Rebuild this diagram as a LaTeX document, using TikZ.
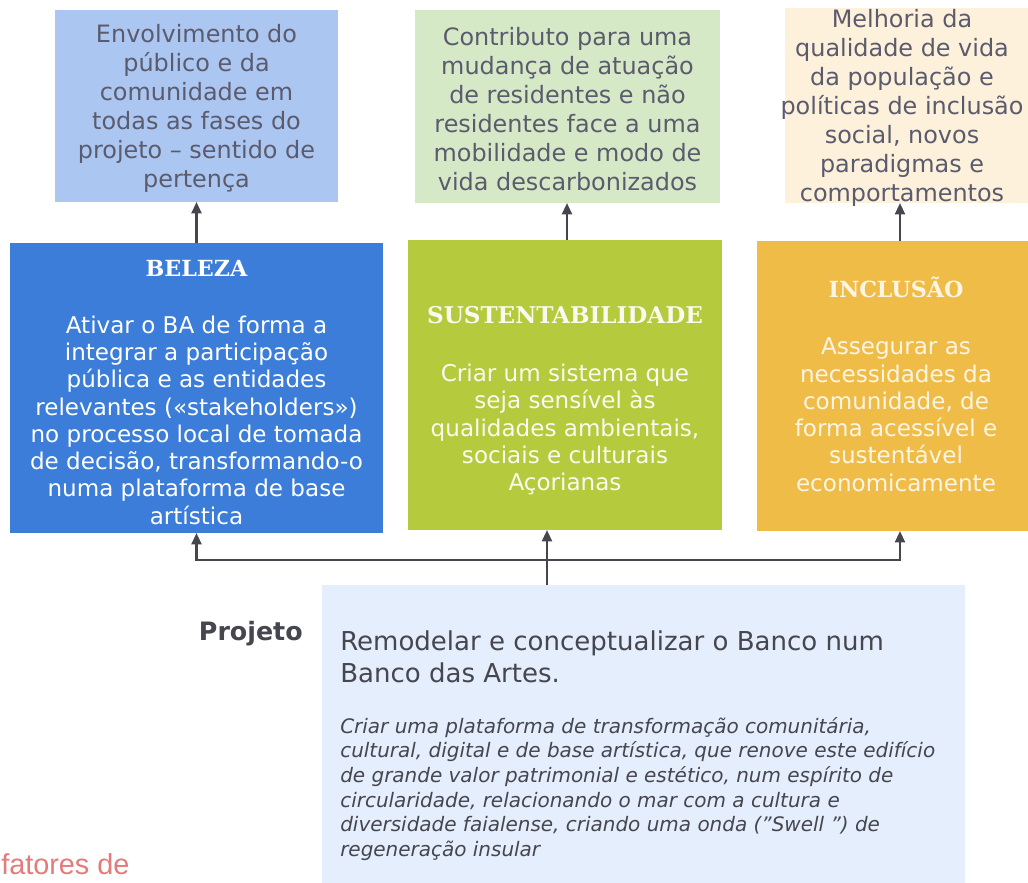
\documentclass[tikz,border=0pt]{standalone}
\usepackage{fontspec}
\setmainfont{DejaVu Sans}
\newfontfamily\headfont{DejaVu Serif}
\newfontfamily\arialfont{Liberation Sans}
\usetikzlibrary{arrows.meta, positioning, calc}

\definecolor{toplblue}{HTML}{ACC6F2}
\definecolor{toplgreen}{HTML}{D6E9C7}
\definecolor{toplcream}{HTML}{FDF1DC}
\definecolor{midblue}{HTML}{3B7DD8}
\definecolor{midgreen}{HTML}{B6CA3E}
\definecolor{midamber}{HTML}{F0BC48}
\definecolor{projfill}{HTML}{E5EEFC}
\definecolor{toptext}{HTML}{5B5B6E}
\definecolor{linegray}{HTML}{45464E}
\definecolor{fatred}{HTML}{E67A7A}

\newlength\pxu
\setlength\pxu{0.025cm}

\begin{document}
\begin{tikzpicture}[
  x=0.025cm, y=-0.025cm,
  box/.style = {inner sep=0pt, outer sep=0pt},
  toptxt/.style = {align=center, text=toptext, inner sep=0pt,
    font=\fontsize{17}{20.6}\selectfont},
  midtxt/.style = {align=center, inner sep=0pt,
    font=\fontsize{16.4}{19.4}\selectfont},
  arrow/.style = {linegray, line width=1.6pt, -{Triangle[length=8pt, width=7pt]}}
]

  \useasboundingbox (0,0) rectangle (1028,883);

  % Outcome boxes (top row)
  \node[box, fill=toplblue, minimum width=283\pxu, minimum height=192\pxu] (t1) at (196.5,106) {};
  \node[box, fill=toplgreen, minimum width=305\pxu, minimum height=193\pxu] (t2) at (567.5,106.5) {};
  \node[box, fill=toplcream, minimum width=250\pxu, minimum height=195\pxu] (t3) at (910,105.5) {};

  \node[toptxt] (t1txt) at (196.5,108) {Envolvimento do\\público e da\\comunidade em\\todas as fases do\\projeto -- sentido de\\pertença};
  \node[toptxt] (t2txt) at (567.5,109) {Contributo para uma\\mudança de atuação\\de residentes e não\\residentes face a uma\\mobilidade e modo de\\vida descarbonizados};
  \node[toptxt] (t3txt) at (902,108) {Melhoria da\\qualidade de vida\\da população e\\políticas de inclusão\\social, novos\\paradigmas e\\comportamentos};

  % Pillar boxes (middle row)
  \node[box, fill=midblue, minimum width=373\pxu, minimum height=290\pxu] (m1) at (196.5,388) {};
  \node[box, fill=midgreen, minimum width=314\pxu, minimum height=290\pxu] (m2) at (565,385) {};
  \node[box, fill=midamber, minimum width=278\pxu, minimum height=290\pxu] (m3) at (896,386) {};

  \node[midtxt, text=white, below=17\pxu of m1.north] (m1txt)
    {{\headfont\bfseries\fontsize{15.8}{18}\selectfont BELEZA}\\[21pt]
     Ativar o BA de forma a\\integrar a participação\\pública e as entidades\\relevantes («stakeholders»)\\no processo local de tomada\\de decisão, transformando-o\\numa plataforma de base\\artística};
  \node[midtxt, text=white!92!midgreen, below=66\pxu of m2.north] (m2txt)
    {{\headfont\bfseries\fontsize{16.4}{18}\selectfont SUSTENTABILIDADE}\\[22pt]
     Criar um sistema que\\seja sensível às\\qualidades ambientais,\\sociais e culturais\\Açorianas};
  \node[midtxt, text=white!85!midamber, below=36\pxu of m3.north] (m3txt)
    {{\headfont\bfseries\fontsize{15.8}{18}\selectfont INCLUSÃO}\\[21pt]
     Assegurar as\\necessidades da\\comunidade, de\\forma acessível e\\sustentável\\economicamente};

  % Project box
  \node[box, fill=projfill, minimum width=643\pxu, minimum height=310\pxu] (proj) at (643.5,740) {};
  \node[anchor=north east, inner sep=0pt, text=linegray,
    font=\bfseries\fontsize{18}{20}\selectfont] (projlabel) at (303,621) {Projeto};
  \node[anchor=north west, inner sep=0pt, align=left, text=linegray,
    font=\fontsize{18.5}{22.8}\selectfont] (projhead) at (340,630)
    {Remodelar e conceptualizar o Banco num\\Banco das Artes.};
  \node[anchor=north west, inner sep=0pt, align=left, text=linegray,
    font=\itshape\fontsize{14.2}{17.5}\selectfont] (projdesc) at (340,717)
    {Criar uma plataforma de transformação comunitária,\\cultural, digital e de base artística, que renove este edifício\\de grande valor patrimonial e estético, num espírito de\\circularidade, relacionando o mar com a cultura e\\diversidade faialense, criando uma onda ("Swell ") de\\regeneração insular};

  \node[anchor=base west, inner sep=0pt, text=fatred,
    font=\arialfont\fontsize{20.5}{24}\selectfont] (fatores) at (1,874) {fatores de};

  % Pillars to outcomes
  \draw[arrow] (m1.north) -- (t1.south);
  \draw[arrow] ($(m2.north)+(2,0)$) -- ($(t2.south)+(-0.5,0)$);
  \draw[arrow] ($(m3.north)+(4,0)$) -- ($(t3.south)+(-10,0)$);

  % Project to pillars
  \coordinate (hub) at (547,560);
  \draw[arrow] (proj.north -| hub) -- (m2.south -| hub);
  \draw[arrow] (hub) -| (m1.south);
  \draw[arrow] (hub) -| ($(m3.south)+(4,0)$);

\end{tikzpicture}
\end{document}
